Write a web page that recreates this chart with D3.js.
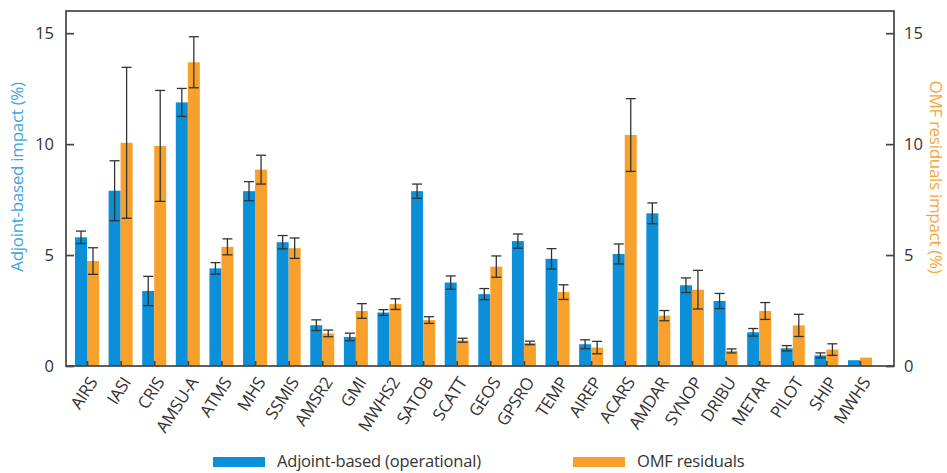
<!DOCTYPE html>
<html>
<head>
<meta charset="utf-8">
<script src="https://cdn.jsdelivr.net/npm/d3@7"></script>
<style>
  body { margin: 0; background: #fff; }
  svg { font-family: "Open Sans", "Noto Sans", sans-serif; }
</style>
</head>
<body>
<svg id="chart" width="947" height="473"></svg>
<script>
// observing systems
const categories = ["AIRS", "IASI", "CRIS", "AMSU-A", "ATMS", "MHS", "SSMIS", "AMSR2", "GMI", "MWHS2",
    "SATOB", "SCATT", "GEOS", "GPSRO", "TEMP", "AIREP", "ACARS", "AMDAR", "SYNOP", "DRIBU",
    "METAR", "PILOT", "SHIP", "MWHS"];

// adjoint-based impact (%) and its error
const adjointValues = [5.80, 7.90, 3.38, 11.88, 4.40, 7.88, 5.58, 1.84, 1.31, 2.41,
    7.88, 3.76, 3.24, 5.63, 4.83, 0.98, 5.05, 6.88, 3.64, 2.93,
    1.52, 0.80, 0.48, 0.26];
const adjointErrors = [0.28, 1.35, 0.66, 0.63, 0.26, 0.43, 0.30, 0.24, 0.17, 0.13,
    0.32, 0.30, 0.25, 0.32, 0.46, 0.20, 0.45, 0.47, 0.33, 0.34,
    0.17, 0.12, 0.11, 0.0];

// OMF residuals impact (%) and its error
const omfValues = [4.73, 10.06, 9.92, 13.69, 5.37, 8.85, 5.31, 1.47, 2.48, 2.79,
    2.07, 1.16, 4.48, 1.04, 3.33, 0.83, 10.41, 2.27, 3.44, 0.68,
    2.48, 1.83, 0.74, 0.38];
const omfErrors = [0.60, 3.40, 2.50, 1.15, 0.36, 0.65, 0.46, 0.15, 0.33, 0.24,
    0.15, 0.09, 0.48, 0.08, 0.33, 0.28, 1.64, 0.23, 0.87, 0.09,
    0.38, 0.50, 0.26, 0.0];

const yTicks = [0, 5, 10, 15];
const seriesNames = ["Adjoint-based (operational)", "OMF residuals"];

const blue = "#0a8fd8";
const orange = "#f7a12c";
const ink = "#333";

const svg = d3.select("#chart");

// frame of the plot
const frame = {left: 66, right: 894, top: 11, bottom: 366};

let x = d3.scalePoint().domain(categories).range([87, 860]);
let y = d3.scaleLinear().domain([0, 16]).range([frame.bottom, frame.top]);
const barW = 12;
const capW = 10;

let series = [
    {name: seriesNames[0], values: adjointValues, errors: adjointErrors, color: blue, offset: -barW},
    {name: seriesNames[1], values: omfValues, errors: omfErrors, color: orange, offset: 0}
];

// bars
series.forEach(function(s) {
    svg.append("g")
        .selectAll("rect")
        .data(categories)
        .enter()
        .append("rect")
        .attr("x", function(d) { return x(d) + s.offset; })
        .attr("y", function(d, i) { return y(s.values[i]); })
        .attr("width", barW)
        .attr("height", function(d, i) { return y(0) - y(s.values[i]); })
        .attr("fill", s.color);
});

// error bars
series.forEach(function(s) {
    let g = svg.append("g")
        .attr("stroke", ink)
        .attr("stroke-width", 1.3);
    categories.forEach(function(c, i) {
        if (s.errors[i] <= 0) return;
        let cx = x(c) + s.offset + barW / 2;
        let lo = y(s.values[i] - s.errors[i]);
        let hi = y(s.values[i] + s.errors[i]);
        g.append("line").attr("x1", cx).attr("x2", cx).attr("y1", lo).attr("y2", hi);
        g.append("line").attr("x1", cx - capW / 2).attr("x2", cx + capW / 2).attr("y1", lo).attr("y2", lo);
        g.append("line").attr("x1", cx - capW / 2).attr("x2", cx + capW / 2).attr("y1", hi).attr("y2", hi);
    });
});

// box around plot
svg.append("rect")
    .attr("x", frame.left)
    .attr("y", frame.top)
    .attr("width", frame.right - frame.left)
    .attr("height", frame.bottom - frame.top)
    .attr("fill", "none")
    .attr("stroke", "#444")
    .attr("stroke-width", 1.7);

// left axis, ticks pointing inward
let leftAxis = svg.append("g")
    .attr("transform", "translate(" + frame.left + ",0)")
    .call(d3.axisLeft(y).tickValues(yTicks).tickSize(-8).tickPadding(12));
// right axis
let rightAxis = svg.append("g")
    .attr("transform", "translate(" + frame.right + ",0)")
    .call(d3.axisRight(y).tickValues(yTicks).tickSize(-8).tickPadding(10));
// bottom ticks
let bottomAxis = svg.append("g")
    .attr("transform", "translate(0," + frame.bottom + ")")
    .call(d3.axisBottom(x).tickSize(-5).tickFormat(""));

[leftAxis, rightAxis, bottomAxis].forEach(function(a) {
    a.select(".domain").remove();
    a.selectAll("line").attr("stroke", "#444").attr("stroke-width", 1.7);
    a.selectAll("text").attr("fill", ink).style("font-size", "16.5px")
        .style("font-family", "'Open Sans', 'Noto Sans', sans-serif");
});

// rotated category labels
svg.append("g")
    .selectAll("text")
    .data(categories)
    .enter()
    .append("text")
    .attr("transform", function(d) {
        return "translate(" + (x(d) + 6) + "," + (frame.bottom + 13) + ") rotate(-57)";
    })
    .attr("text-anchor", "end")
    .attr("dy", "0.35em")
    .attr("fill", ink)
    .style("font-size", "17px")
    .style("letter-spacing", "-0.4px")
    .text(function(d) { return d; });

// axis titles
svg.append("text")
    .attr("transform", "translate(23,177) rotate(-90)")
    .attr("text-anchor", "middle")
    .attr("fill", "#3aa6e2")
    .style("font-size", "17px")
    .style("letter-spacing", "-0.3px")
    .text("Adjoint-based impact (%)");

svg.append("text")
    .attr("transform", "translate(930,177) rotate(90)")
    .attr("text-anchor", "middle")
    .attr("fill", "#f5a63a")
    .style("font-size", "17px")
    .style("letter-spacing", "-0.3px")
    .text("OMF residuals impact (%)");

// legend
let legendX = [213, 573];
series.forEach(function(s, i) {
    svg.append("rect")
        .attr("x", legendX[i])
        .attr("y", 457)
        .attr("width", 52)
        .attr("height", 10)
        .attr("fill", s.color);
    svg.append("text")
        .attr("x", legendX[i] + 64)
        .attr("y", 467)
        .attr("fill", ink)
        .style("font-size", "16.5px")
        .style("letter-spacing", "-0.2px")
        .text(s.name);
});
</script>
</body>
</html>
